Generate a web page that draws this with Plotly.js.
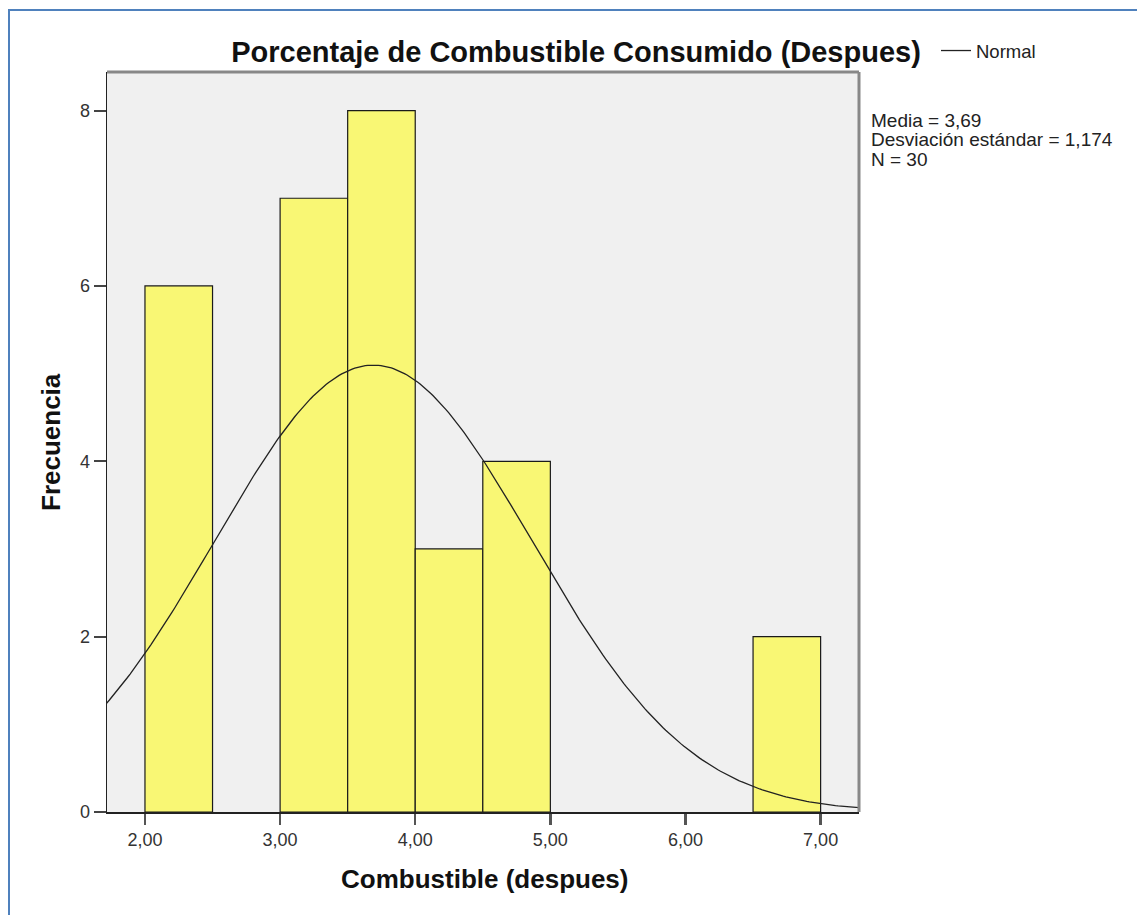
<!DOCTYPE html>
<html>
<head>
<meta charset="utf-8">
<script src="https://cdn.plot.ly/plotly-3.0.1.min.js"></script>
<style>
  html, body { margin: 0; padding: 0; background: #ffffff; overflow: hidden; }
  #frame { position: absolute; left: 8px; top: 9px; width: 1200px; height: 1000px;
           border-left: 2px solid #4F81BD; border-top: 2px solid #4F81BD; }
  #chart { position: absolute; left: 0; top: 0; width: 1137px; height: 915px; }
</style>
</head>
<body>
<div id="frame"></div>
<div id="chart"></div>
<script>
// Histogram bins (left edge of each bin) and counts
const binStarts = [2.0, 3.0, 3.5, 4.0, 4.5, 6.5];
const binCounts = [6, 7, 8, 3, 4, 2];
const binWidth = 0.5;

// Summary statistics shown in the chart
const mean = 3.69;
const stdDev = 1.174;
const nObs = 30;

// Tick labels
const xTickVals = [2, 3, 4, 5, 6, 7];
const xTickText = ['2,00', '3,00', '4,00', '5,00', '6,00', '7,00'];
const yTickVals = [0, 2, 4, 6, 8];

// Normal overlay: density scaled to counts (N * bin width)
const curveX = [];
const curveY = [];
for (let i = 0; i <= 300; i++) {
  const x = 1.6 + i * (7.4 - 1.6) / 300;
  const z = (x - mean) / stdDev;
  curveX.push(x);
  curveY.push(nObs * binWidth * Math.exp(-0.5 * z * z) / (stdDev * Math.sqrt(2 * Math.PI)));
}

const barTrace = {
  type: 'bar',
  x: binStarts.map(b => b + binWidth / 2),
  y: binCounts,
  width: binStarts.map(() => binWidth),
  marker: { color: '#F9F774', line: { color: '#1a1a1a', width: 1.2 } },
  showlegend: false,
  hoverinfo: 'x+y'
};

const curveTrace = {
  type: 'scatter',
  mode: 'lines',
  x: curveX,
  y: curveY,
  name: 'Normal',
  line: { color: '#222222', width: 1.3 },
  showlegend: true
};

const font = 'Liberation Sans, Arial, sans-serif';
const L = 107, T = 72, PW = 752, PH = 740;
const px = v => (v - L) / PW;        // pixel x -> paper x
const py = v => 1 - (v - T) / PH;    // pixel y -> paper y

const statsLines = [
  'Media = ' + mean.toFixed(2).replace('.', ','),
  'Desviación estándar = ' + stdDev.toFixed(3).replace('.', ','),
  'N = ' + nObs
];

const annotations = statsLines.map((t, i) => ({
  xref: 'paper', yref: 'paper',
  x: px(869), xanchor: 'left',
  y: py(120 + i * 19.5), yanchor: 'middle',
  align: 'left', showarrow: false,
  text: t,
  font: { family: font, size: 19, color: '#222222' }
}));

annotations.push({
  xref: 'paper', yref: 'paper',
  x: px(484), xanchor: 'center',
  y: py(879), yanchor: 'middle',
  showarrow: false,
  text: '<b>Combustible (despues)</b>',
  font: { family: font, size: 26, color: '#111111' }
});
annotations.push({
  xref: 'paper', yref: 'paper',
  x: px(51), xanchor: 'center',
  y: py(442), yanchor: 'middle',
  textangle: -90,
  showarrow: false,
  text: '<b>Frecuencia</b>',
  font: { family: font, size: 26, color: '#111111' }
});

const layout = {
  width: 1137,
  height: 915,
  margin: { l: L, r: 1137 - L - PW, t: T, b: 915 - T - PH, pad: 0 },
  paper_bgcolor: 'rgba(0,0,0,0)',
  plot_bgcolor: '#F0F0F0',
  font: { family: font, color: '#333333', size: 18 },
  bargap: 0,
  title: {
    text: '<b>Porcentaje de Combustible Consumido (Despues)</b>',
    font: { family: font, size: 29, color: '#111111' },
    xref: 'container', yref: 'container',
    x: 576 / 1137, xanchor: 'center',
    y: 1 - 52 / 915, yanchor: 'middle'
  },
  xaxis: {
    range: [1.719, 7.284],
    tickvals: xTickVals,
    ticktext: xTickText,
    ticks: 'outside', ticklen: 11, tickwidth: 2.5, tickcolor: '#555555',
    showgrid: false, zeroline: false,
    showline: true, linecolor: '#222222', linewidth: 1.5,
    tickfont: { family: font, size: 18, color: '#333333' }
  },
  yaxis: {
    range: [0, 8.44],
    tickvals: yTickVals,
    ticks: 'outside', ticklen: 12, tickwidth: 2, tickcolor: '#444444',
    showgrid: false, zeroline: false,
    showline: true, linecolor: '#222222', linewidth: 1.5,
    tickfont: { family: font, size: 18, color: '#333333' }
  },
  legend: {
    x: px(936), xanchor: 'left',
    y: py(51), yanchor: 'middle',
    bgcolor: 'rgba(0,0,0,0)',
    font: { family: font, size: 18.5, color: '#222222' },
    itemwidth: 30
  },
  shapes: [
    { type: 'line', xref: 'paper', yref: 'paper', x0: 0, x1: 1, y0: 1, y1: 1,
      line: { color: '#888888', width: 3 } },
    { type: 'line', xref: 'paper', yref: 'paper', x0: 1, x1: 1, y0: 0, y1: 1,
      line: { color: '#888888', width: 3 } }
  ],
  annotations: annotations
};

Plotly.newPlot('chart', [barTrace, curveTrace], layout, { displayModeBar: false, staticPlot: true });
</script>
</body>
</html>
